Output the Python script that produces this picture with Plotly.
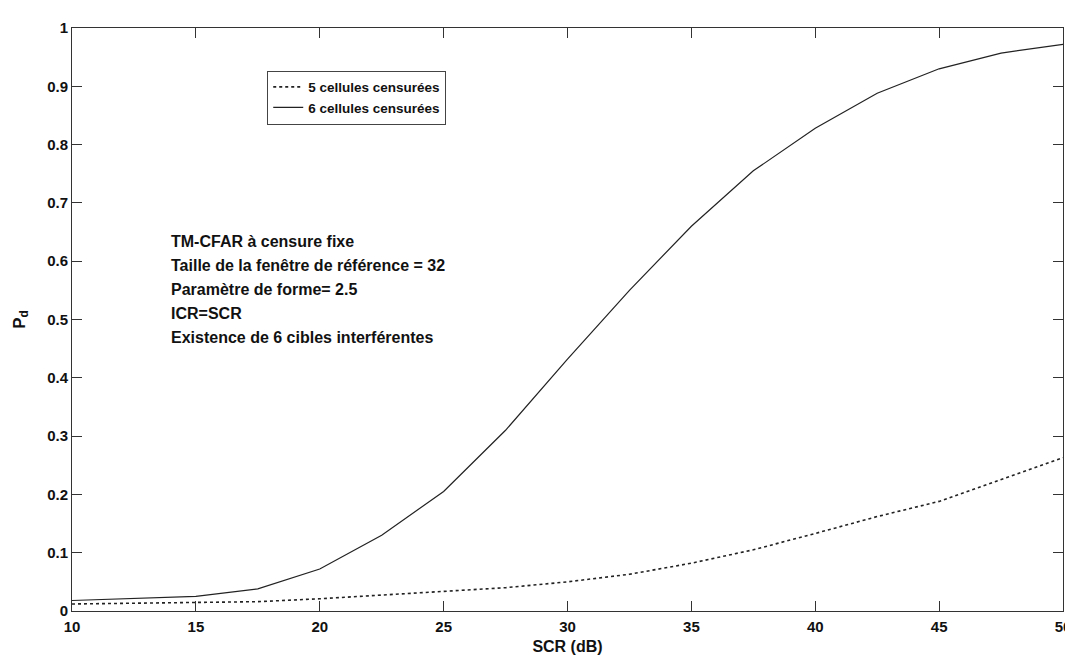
import plotly.graph_objects as go

scr = [10, 12.5, 15, 17.5, 20, 22.5, 25, 27.5, 30, 32.5, 35, 37.5, 40, 42.5, 45, 47.5, 50]
pd5 = [0.012, 0.013, 0.015, 0.016, 0.021, 0.027, 0.033, 0.040, 0.050, 0.063, 0.082, 0.105, 0.133, 0.162, 0.188, 0.225, 0.263]
pd6 = [0.018, 0.021, 0.025, 0.038, 0.072, 0.130, 0.205, 0.310, 0.432, 0.550, 0.660, 0.755, 0.828, 0.888, 0.930, 0.957, 0.972]

xticks = [10, 15, 20, 25, 30, 35, 40, 45, 50]
yticks = [0, 0.1, 0.2, 0.3, 0.4, 0.5, 0.6, 0.7, 0.8, 0.9, 1]
ytick_labels = ["0", "0.1", "0.2", "0.3", "0.4", "0.5", "0.6", "0.7", "0.8", "0.9", "1"]

info_lines = ["TM-CFAR à censure fixe",
              "Taille de la fenêtre de référence = 32",
              "Paramètre de forme= 2.5",
              "ICR=SCR",
              "Existence de 6 cibles interférentes"]

FONT = "Liberation Sans, Arial, sans-serif"
TXT = "#111111"

fig = go.Figure()
fig.add_trace(go.Scatter(x=scr, y=pd5, mode="lines", name="5 cellules censurées",
                         line=dict(color="#222222", width=1.6, dash="dot")))
fig.add_trace(go.Scatter(x=scr, y=pd6, mode="lines", name="6 cellules censurées",
                         line=dict(color="#222222", width=1.2)))

# plot area height in px = 583; first line centre at ~233 px (anchor), step 24 px
plot_top, plot_h = 20, 583
for i, s in enumerate(info_lines):
    py = 233 + 24 * i
    fig.add_annotation(xref="paper", yref="paper", x=0.098, y=(plot_top + plot_h - py) / plot_h,
                       xanchor="left", yanchor="middle", align="left", showarrow=False,
                       text=s, font=dict(family=FONT, size=16, color=TXT, weight="bold"))

fig.update_layout(
    width=1073, height=664,
    margin=dict(l=64, r=18, t=20, b=61),
    paper_bgcolor="white", plot_bgcolor="white",
    font=dict(family=FONT, size=15, color=TXT),
    showlegend=True,
    legend=dict(x=0.197, y=0.927, xanchor="left", yanchor="top",
                bgcolor="white", bordercolor="#444444", borderwidth=1,
                font=dict(family=FONT, size=13.5, color=TXT, weight="bold"),
                tracegroupgap=0, itemwidth=30),
    xaxis=dict(range=[10, 50], tickvals=xticks, ticktext=[str(v) for v in xticks],
               ticks="inside", ticklen=10, tickcolor="#333333",
               showline=True, linecolor="#333333", linewidth=1, mirror="ticks",
               showgrid=False, zeroline=False, ticklabelstandoff=2, automargin=False,
               tickfont=dict(family=FONT, size=15, color=TXT, weight="bold"),
               title=dict(text="SCR (dB)", font=dict(family=FONT, size=16, color=TXT, weight="bold"), standoff=6)),
    yaxis=dict(range=[0, 1], tickvals=yticks, ticktext=ytick_labels,
               ticks="inside", ticklen=10, tickcolor="#333333",
               showline=True, linecolor="#333333", linewidth=1, mirror="ticks",
               showgrid=False, zeroline=False, automargin=False,
               tickfont=dict(family=FONT, size=15, color=TXT, weight="bold"),
               title=dict(text="P<sub>d</sub>", font=dict(family=FONT, size=17, color=TXT, weight="bold"), standoff=17)),
)

fig.write_html("out.html")
